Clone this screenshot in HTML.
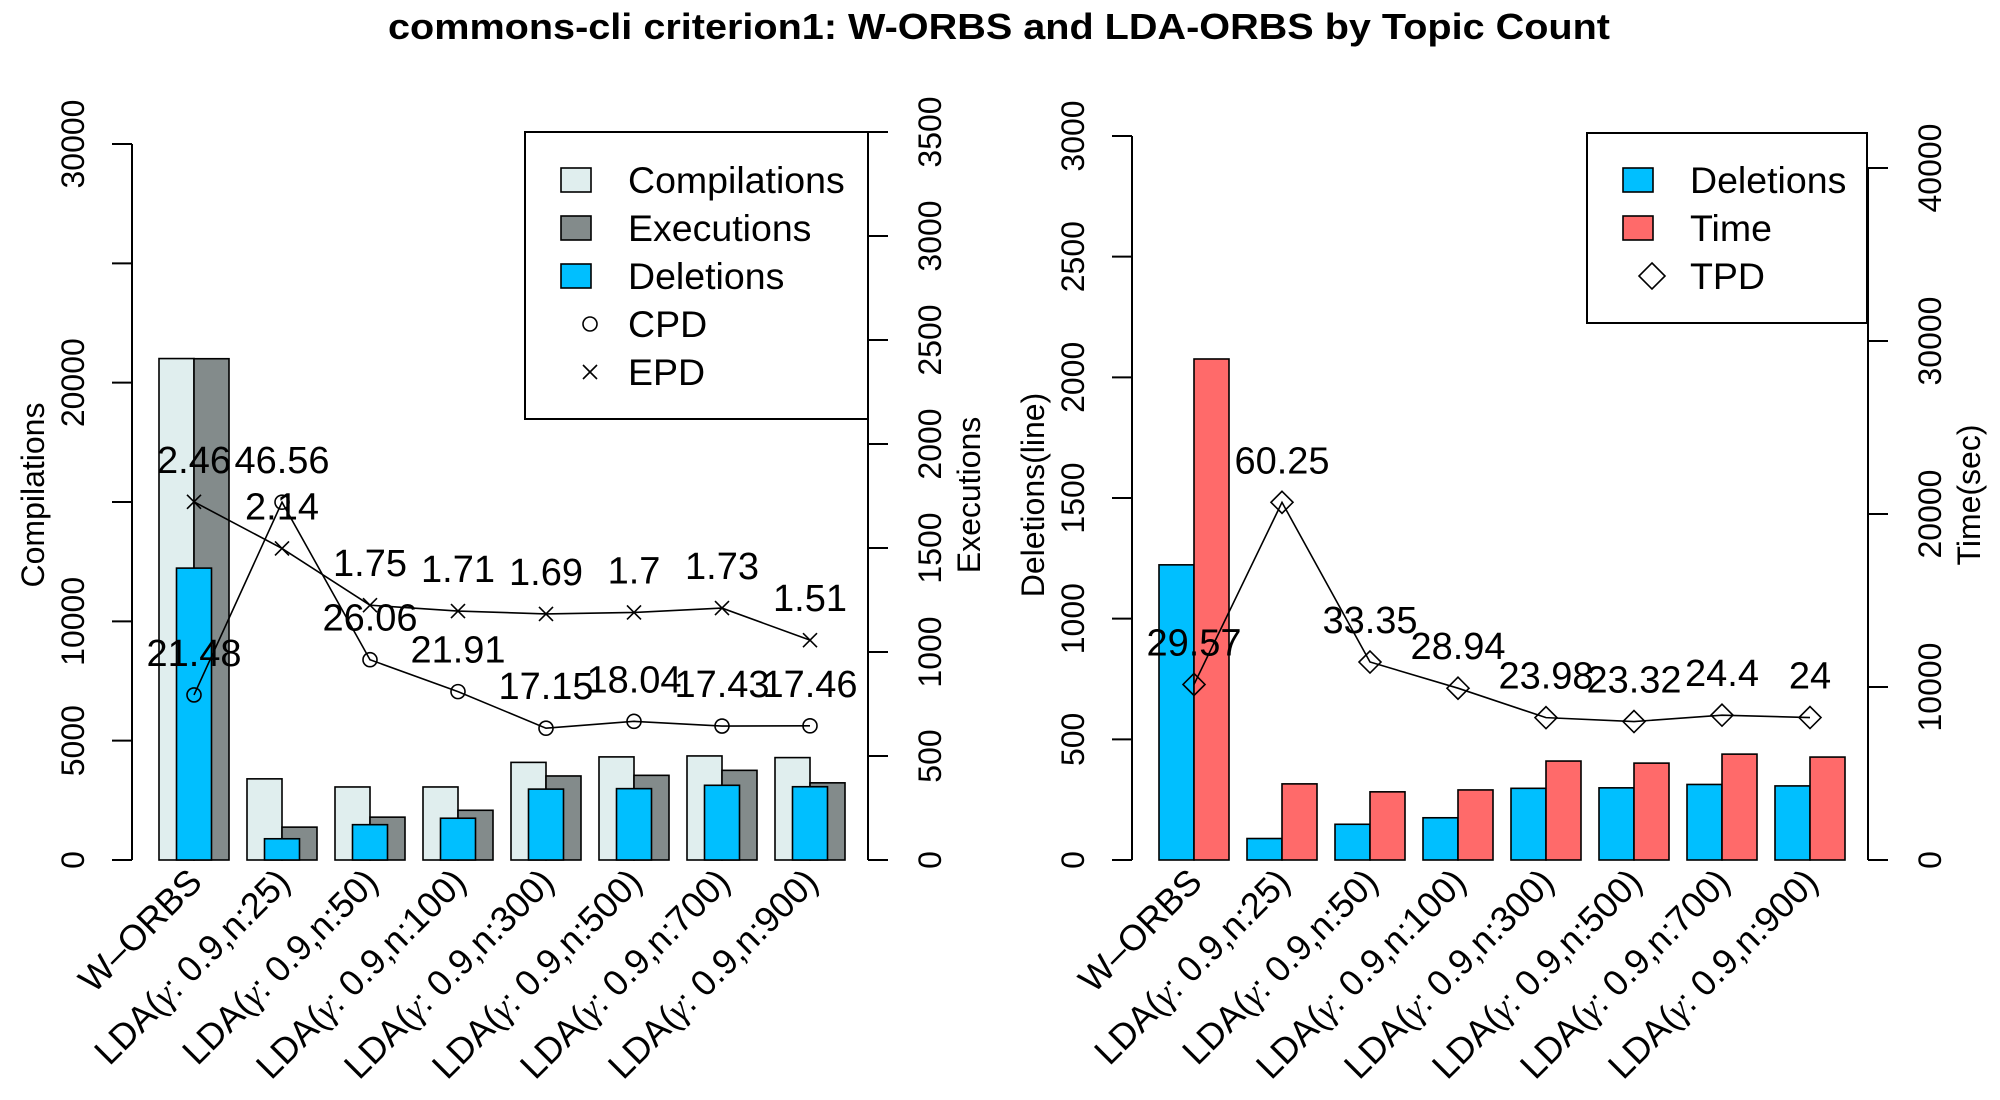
<!DOCTYPE html>
<html><head><meta charset="utf-8"><style>
html,body{margin:0;padding:0;background:#fff;}
svg{display:block;font-family:"Liberation Sans",Arial,sans-serif;}
</style></head><body>
<svg id="chart" width="2000" height="1100" viewBox="0 0 2000 1100" xmlns="http://www.w3.org/2000/svg">
<text x="999" y="39" text-anchor="middle" font-size="36" font-weight="bold" textLength="1222" lengthAdjust="spacingAndGlyphs">commons-cli criterion1: W-ORBS and LDA-ORBS by Topic Count</text>
<g id="left"></g>
<g id="right"></g>
</svg>
<script>
const categories = ["W\u2013ORBS","25","50","100","300","500","700","900"];
const compilations = [21010, 3400, 3060, 3060, 4090, 4320, 4360, 4290];
const executions = [2410, 158, 206, 239, 404, 407, 431, 371];
const deletions = [1223, 89, 148, 175, 297, 299, 313, 307];
const timeSec = [28960, 4400, 3940, 4050, 5720, 5600, 6120, 5950];
const cpd = [21.48, 46.56, 26.06, 21.91, 17.15, 18.04, 17.43, 17.46];
const epd = [2.46, 2.14, 1.75, 1.71, 1.69, 1.7, 1.73, 1.51];
const tpd = [29.57, 60.25, 33.35, 28.94, 23.98, 23.32, 24.4, 24];
const compTicks = [0, 5000, 10000, 15000, 20000, 25000, 30000];
const compTickLabels = ["0", "5000", "10000", "", "20000", "", "30000"];
const execTicks = [0, 500, 1000, 1500, 2000, 2500, 3000, 3500];
const delTicks = [0, 500, 1000, 1500, 2000, 2500, 3000];
const timeTicks = [0, 10000, 20000, 30000, 40000];

const NS = "http://www.w3.org/2000/svg";
function mk(parent, tag, attrs, text){
  const e = document.createElementNS(NS, tag);
  for (const k in attrs) e.setAttribute(k, attrs[k]);
  if (text !== undefined) e.textContent = text;
  parent.appendChild(e);
  return e;
}
const Y0 = 860;
const yComp = v => Y0 - v * (716 / 30000);
const yExec = v => Y0 - v * (728 / 3500);
const yDel = v => Y0 - v * (724 / 3000);
const yTime = v => Y0 - v * (692 / 40000);
const COL = {comp:"#E0EEEE", exec:"#838B8B", del:"#00BFFF", time:"#FF6A6A"};

function xc(i, off){ return off + 194 + i * 88; }

function yAxis(g, x, ticks, yf, side, titleText, titleX, labelX, nm, labels){
  const ax = mk(g, "g", {});
  
  
  mk(ax, "line", {x1:x, x2:x, y1:yf(ticks[0]), y2:yf(ticks[ticks.length-1]), stroke:"#000", "stroke-width":2});
  ticks.forEach((t, i) => {
    const y = yf(t);
    mk(ax, "line", {x1:x, x2:x + side*20, y1:y, y2:y, stroke:"#000", "stroke-width":2});
    const lab = labels ? labels[i] : String(t);
    if (lab === "") return;
    const tl = mk(ax, "text", {x:labelX, y:y, transform:`rotate(-90 ${labelX} ${y})`, "text-anchor":"middle", "font-size":32}, lab);
    
    
  });
  const ty = 495;
  const tt = mk(ax, "text", {x:titleX, y:ty, transform:`rotate(-90 ${titleX} ${ty})`, "text-anchor":"middle", "font-size":32}, titleText);
  
  
}

function xLabels(g, off){
  categories.forEach((c, i) => {
    const x = xc(i, off) + 10, y = 884;
    const t = mk(g, "text", {x:x, y:y, transform:`rotate(-45 ${x} ${y})`, "text-anchor":"end", "font-size":36});
    
    
    if (i === 0) { t.textContent = c; }
    else {
      mk(t, "tspan", {}, "LDA(");
      mk(t, "tspan", {"font-style":"italic", "font-family":"Liberation Serif, serif"}, "\u03B3");
      mk(t, "tspan", {}, ": 0.9,n:" + c + ")");
    }
  });
}

function bar(g, x, w, top, fill, nm){
  const r = mk(g, "rect", {x:x, y:top, width:w, height:Y0 - top, fill:fill, stroke:"#000", "stroke-width":1.6});
  
  
}

function series(g, xs, ys, marker, labels, nm){
  const sg = mk(g, "g", {});
  
  
  mk(sg, "polyline", {points: xs.map((x,i)=>x+","+ys[i]).join(" "), fill:"none", stroke:"#000", "stroke-width":1.6});
  xs.forEach((x, i) => {
    const y = ys[i];
    let m;
    if (marker === "circle") m = mk(sg, "circle", {cx:x, cy:y, r:7, fill:"none", stroke:"#000", "stroke-width":1.6});
    else if (marker === "cross") m = mk(sg, "path", {d:`M${x-7},${y-7}L${x+7},${y+7}M${x-7},${y+7}L${x+7},${y-7}`, stroke:"#000", "stroke-width":1.6, fill:"none"});
    else m = mk(sg, "path", {d:`M${x},${y-11}L${x+11},${y}L${x},${y+11}L${x-11},${y}Z`, fill:"none", stroke:"#000", "stroke-width":1.6});
    
    
    const t = mk(sg, "text", {x:x, y:y - 29, "text-anchor":"middle", "font-size":38}, String(labels[i]));
    
    
  });
}

function legend(g, bx, by, bw, bh, items, nm){
  const lg = mk(g, "g", {});
  
  
  mk(lg, "rect", {x:bx, y:by, width:bw, height:bh, fill:"#fff", stroke:"#000", "stroke-width":2});
  items.forEach((it, i) => {
    const cy = 180 + i * 48;
    const eg = mk(lg, "g", {});
    
    
    if (it.fill) mk(eg, "rect", {x:bx+36, y:cy-12, width:30, height:24, fill:it.fill, stroke:"#000", "stroke-width":1.6});
    else if (it.m === "circle") mk(eg, "circle", {cx:bx+65, cy:cy, r:7, fill:"none", stroke:"#000", "stroke-width":1.6});
    else if (it.m === "cross") mk(eg, "path", {d:`M${bx+58},${cy-7}L${bx+72},${cy+7}M${bx+58},${cy+7}L${bx+72},${cy-7}`, stroke:"#000", "stroke-width":1.6});
    else mk(eg, "path", {d:`M${bx+65},${cy-13}L${bx+78},${cy}L${bx+65},${cy+13}L${bx+52},${cy}Z`, fill:"none", stroke:"#000", "stroke-width":1.6});
    mk(eg, "text", {x:bx+103, y:cy+13, "font-size":37.5}, it.label);
  });
}

// LEFT PANEL
const L = document.getElementById("left");
compilations.forEach((v, i) => {
  const c = xc(i, 0);
  bar(L, c - 35, 35, yComp(v), COL.comp, 'compilations-bar');
  bar(L, c, 35, yExec(executions[i]), COL.exec, 'executions-bar');
  bar(L, c - 17.5, 35, yComp(deletions[i] * 10), COL.del, 'deletions-bar');
});
const xsL = categories.map((c,i)=>xc(i,0));
series(L, xsL, cpd.map(v => yComp(v * 322)), "circle", cpd, 'cpd-series');
series(L, xsL, epd.map(v => yExec(v * 700)), "cross", epd, 'epd-series');
yAxis(L, 132, compTicks, yComp, -1, "Compilations", 44, 84, 'compilations-axis', compTickLabels);
legend(L, 525, 132, 343, 287, [
  {fill:COL.comp, label:"Compilations"},{fill:COL.exec, label:"Executions"},{fill:COL.del, label:"Deletions"},
  {m:"circle", label:"CPD"},{m:"cross", label:"EPD"}], 'left-legend');
yAxis(L, 868, execTicks, yExec, 1, "Executions", 980, 941, 'executions-axis');
xLabels(L, 0);

// RIGHT PANEL
const R = document.getElementById("right");
deletions.forEach((v, i) => {
  const c = xc(i, 1000);
  bar(R, c - 35, 35, yDel(v), COL.del, 'deletions-bar');
  bar(R, c, 35, yTime(timeSec[i]), COL.time, 'time-bar');
});
const xsR = categories.map((c,i)=>xc(i,1000));
series(R, xsR, tpd.map(v => yDel(v * 24.6)), "diamond", tpd, 'tpd-series');
yAxis(R, 1132, delTicks, yDel, -1, "Deletions(line)", 1044, 1084, 'deletions-axis');
legend(R, 1587, 133, 280, 190, [
  {fill:COL.del, label:"Deletions"},{fill:COL.time, label:"Time"},{m:"diamond", label:"TPD"}], 'right-legend');
yAxis(R, 1868, timeTicks, yTime, 1, "Time(sec)", 1980, 1941, 'time-axis');
xLabels(R, 1000);
</script>
</body></html>
